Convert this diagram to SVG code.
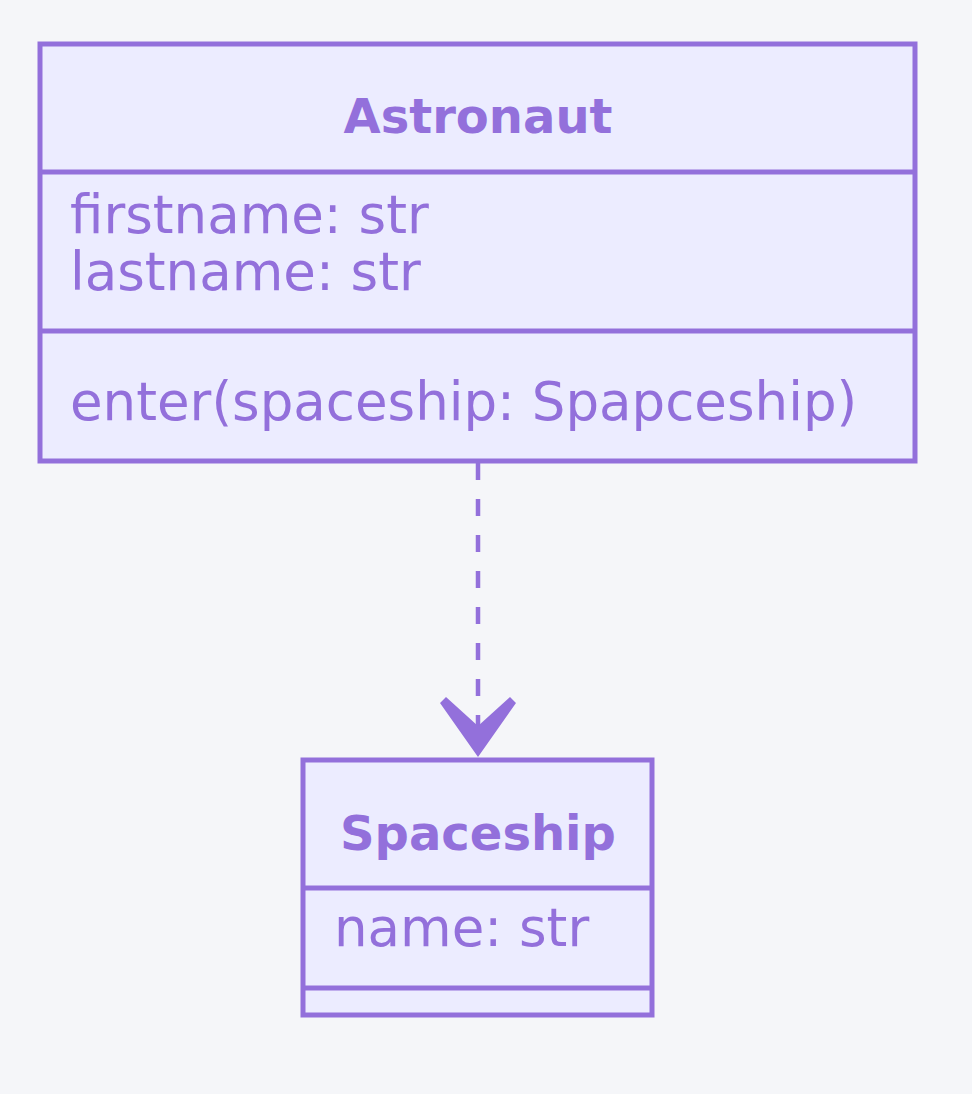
<svg xmlns="http://www.w3.org/2000/svg" width="972" height="1094" viewBox="0 0 972 1094">
<style>
.box{fill:#ECECFF;stroke:#9370DB;stroke-width:5}
.div{stroke:#9370DB;stroke-width:5}
.t{font-family:"DejaVu Sans",sans-serif;fill:#9370DB;font-size:53px}
.b{font-weight:bold;text-anchor:middle;font-size:48px}
</style>
<rect width="972" height="1094" fill="#F5F6F9"/>
<g id="connectors">
<line x1="478" y1="463" x2="478" y2="728" stroke="#9370DB" stroke-width="4.5" stroke-dasharray="17 19"/>
<polygon points="478,757 440,703 446,697 478,726 510,697 516,703" fill="#9370DB"/>
</g>
<g id="Astronaut">
<rect class="box" x="40" y="44" width="875" height="417"/>
<line class="div" x1="40" y1="172" x2="915" y2="172"/>
<line class="div" x1="40" y1="331" x2="915" y2="331"/>
<text class="t b" x="478" y="133">Astronaut</text>
<text class="t" x="70" y="233">firstname: str</text>
<text class="t" x="70" y="290">lastname: str</text>
<text class="t" x="70" y="420">enter(spaceship: Spapceship)</text>
</g>
<g id="Spaceship">
<rect class="box" x="303" y="760" width="349" height="255"/>
<line class="div" x1="303" y1="888" x2="652" y2="888"/>
<line class="div" x1="303" y1="988" x2="652" y2="988"/>
<text class="t b" x="478" y="850">Spaceship</text>
<text class="t" x="334" y="946">name: str</text>
</g>
</svg>
